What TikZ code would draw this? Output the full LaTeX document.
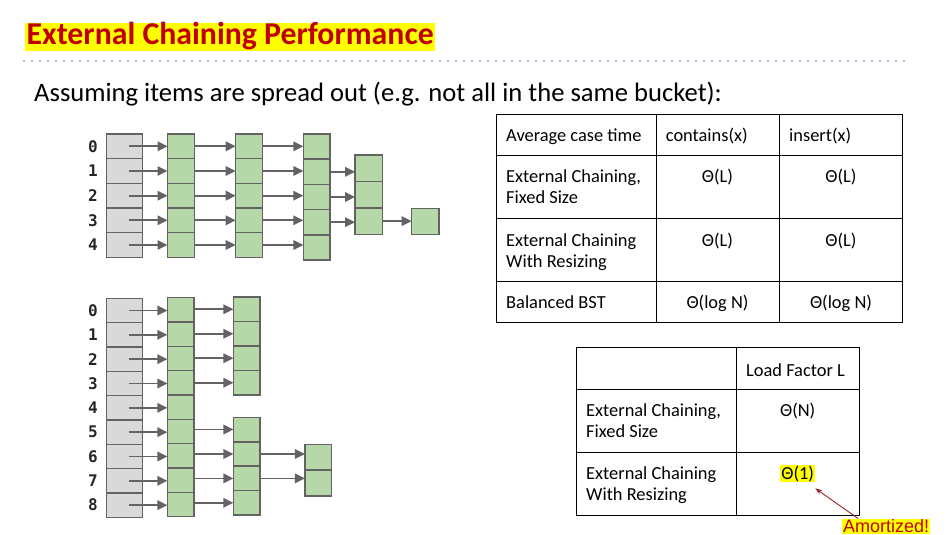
\documentclass[tikz,border=0pt]{standalone}
\usepackage{fontspec}
\setmainfont{Carlito}
\newfontfamily\monofont{DejaVu Sans Mono}
\newfontfamily\arialfont{Liberation Sans}
\usetikzlibrary{arrows.meta,calc}
\definecolor{titlered}{HTML}{C00000}
\definecolor{hiyellow}{HTML}{FFFF00}
\definecolor{dotblue}{HTML}{4F81BD}
\definecolor{cellgray}{HTML}{D9D9D9}
\definecolor{cellgreen}{HTML}{B6D7A8}
\definecolor{edgegray}{HTML}{636363}
\definecolor{notered}{HTML}{A0202A}
\tikzset{
 slot/.style={draw=edgegray, fill=cellgray, line width=1.5pt, inner sep=0pt, outer sep=0pt, minimum width=35.6pt, minimum height=24.6pt},
 item/.style={draw=edgegray, fill=cellgreen, line width=1.5pt, inner sep=0pt, outer sep=0pt, minimum width=27pt, minimum height=24.6pt},
 link/.style={draw=edgegray, line width=1.7pt, -{Triangle[length=10pt,width=9.5pt]}},
 idx/.style={font=\monofont\bfseries\fontsize{16}{16}\selectfont, text=black!85, inner sep=0pt},
 celltxt/.style={font=\fontsize{18.4}{18.4}\selectfont, inner sep=0pt, anchor=base west},
 cellmid/.style={font=\fontsize{18.4}{18.4}\selectfont, inner sep=0pt, anchor=base},
 gridline/.style={draw=black, line width=1pt}
}
\begin{document}
\begin{tikzpicture}[x=1pt,y=-1pt]
\useasboundingbox (0,0) rectangle (947,535);
% title
\node[font=\bfseries\fontsize{31.8}{31.8}\selectfont, text=titlered, fill=hiyellow, anchor=base west, text height=22.3pt, text depth=6pt, inner ysep=0pt, inner xsep=1.5pt] (title) at (25,45) {External Chaining Performance};
\draw[dotblue, line width=1.6pt, line cap=round, dash pattern=on 0pt off 8pt] (24,61) -- (906,61);
\node[font=\fontsize{26.6}{26.6}\selectfont, anchor=base west, inner sep=0pt] (sub) at (34,101.7) {Assuming items are spread out (e.g. not all in the same bucket):};

% ---- top hash table (5 buckets)
\foreach \i/\y/\yd in {0/146.3/146.6,1/171/171.8,2/195.7/197,3/220.3/222.2,4/245/247.4}{
  \node[idx] (ta\i) at (93,\y) {\i};
  \node[slot] (ts\i) at (124.5,\y) {};
  \node[item] (tb\i) at (181,\y) {};
  \node[item, minimum width=26.6pt] (tc\i) at (249,\y) {};
  \node[item, minimum width=26.7pt, minimum height=25.2pt] (td\i) at (316.7,\yd) {};
}
\foreach \i/\y in {1/168.2,2/194.7,3/221.1}{
  \node[item, minimum width=27.3pt, minimum height=26.4pt] (te\i) at (368.7,\y) {};
}
\node[item, minimum width=27.3pt, minimum height=26pt] (tf3) at (425.3,221.3) {};
\foreach \i in {0,...,4}{
  \draw[link] ([xshift=4pt]ts\i.center) -- (tb\i.west);
  \draw[link] (tb\i.east) -- (tc\i.west);
  \draw[link] (tc\i.east) -- (tc\i.east -| td\i.west);
}
\foreach \i in {1,2,3}{
  \draw[link] (td\i.east) -- (td\i.east -| te\i.west);
}
\draw[link] (te3.east) -- (te3.east -| tf3.west);

% ---- bottom hash table (9 buckets)
\foreach \i in {0,...,8}{
  \pgfmathsetmacro{\yy}{310.5+24.33*\i}
  \node[idx] (ba\i) at (93,\yy) {\i};
  \node[slot, minimum width=36pt, minimum height=24.33pt] (bs\i) at (124.7,\yy) {};
  \node[item, minimum width=26.7pt, minimum height=24.4pt] (bb\i) at (180.7,\yy-0.6) {};
}
\foreach \i/\y in {0/309.25,1/333.75,2/358.25,3/382.75,5/429.5,6/454,7/478.4,8/502.8}{
  \node[item, minimum width=26.7pt, minimum height=24.5pt] (bc\i) at (246.7,\y) {};
}
\foreach \i/\y in {6/457.2,7/483}{
  \node[item, minimum width=26.7pt, minimum height=25.85pt] (bd\i) at (318.3,\y) {};
}
\foreach \i in {0,...,8}{
  \draw[link] ([xshift=4pt]bs\i.center) -- (bs\i.center -| bb\i.west);
}
\foreach \i in {0,1,2,3,5,6,7,8}{
  \draw[link] (bc\i.west -| bb\i.east) -- (bc\i.west);
}
\foreach \i in {6,7}{
  \draw[link] (bc\i.east) -- (bc\i.east -| bd\i.west);
}

% ---- table 1
\draw[gridline] (496.7,114) rectangle (902.7,322.3);
\draw[gridline] (656,114) -- (656,322.3);
\draw[gridline] (779.3,114) -- (779.3,322.3);
\draw[gridline] (496.7,155) -- (902.7,155);
\draw[gridline] (496.7,218.3) -- (902.7,218.3);
\draw[gridline] (496.7,281.7) -- (902.7,281.7);
\node[celltxt] (h1) at (506,141.5) {Average case time};
\node[celltxt] (h2) at (665.7,141.5) {contains(x)};
\node[celltxt] (h3) at (789,141.5) {insert(x)};
\node[celltxt] (r1a) at (506,182) {External Chaining,};
\node[celltxt] (r1b) at (506,203.5) {Fixed Size};
\node[cellmid] (r1c) at (717.5,182) {Θ(L)};
\node[cellmid] (r1d) at (841,182) {Θ(L)};
\node[celltxt] (r2a) at (506,246) {External Chaining};
\node[celltxt] (r2b) at (506,267.5) {With Resizing};
\node[cellmid] (r2c) at (717.5,246) {Θ(L)};
\node[cellmid] (r2d) at (841,246) {Θ(L)};
\node[celltxt] (r3a) at (506,308.5) {Balanced BST};
\node[cellmid] (r3c) at (717.5,308.5) {Θ(log N)};
\node[cellmid] (r3d) at (841,308.5) {Θ(log N)};

% ---- table 2
\draw[gridline] (576.7,347.3) rectangle (859,515);
\draw[gridline] (736,347.3) -- (736,515);
\draw[gridline] (576.7,389) -- (859,389);
\draw[gridline] (576.7,452.3) -- (859,452.3);
\node[celltxt] (lf) at (746,376) {Load Factor L};
\node[celltxt] (s1a) at (586,416) {External Chaining,};
\node[celltxt] (s1b) at (586,437.5) {Fixed Size};
\node[cellmid] (s1c) at (797.7,416) {Θ(N)};
\node[celltxt] (s2a) at (586,479) {External Chaining};
\node[celltxt] (s2b) at (586,500.5) {With Resizing};
\node[cellmid, fill=hiyellow, inner xsep=1pt, inner ysep=0.6pt] (th1) at (797.7,479) {Θ(1)};

\node[font=\arialfont\fontsize{18}{18}\selectfont, text=titlered, fill=hiyellow, inner sep=1pt, anchor=base west] (amort) at (842,532.7) {Amortized!};
\draw[notered, line width=0.9pt, -{Stealth[length=7pt,width=5pt]}] ([xshift=16pt]amort.north west) -- ([yshift=-6pt]th1.south east);
\end{tikzpicture}
\end{document}
